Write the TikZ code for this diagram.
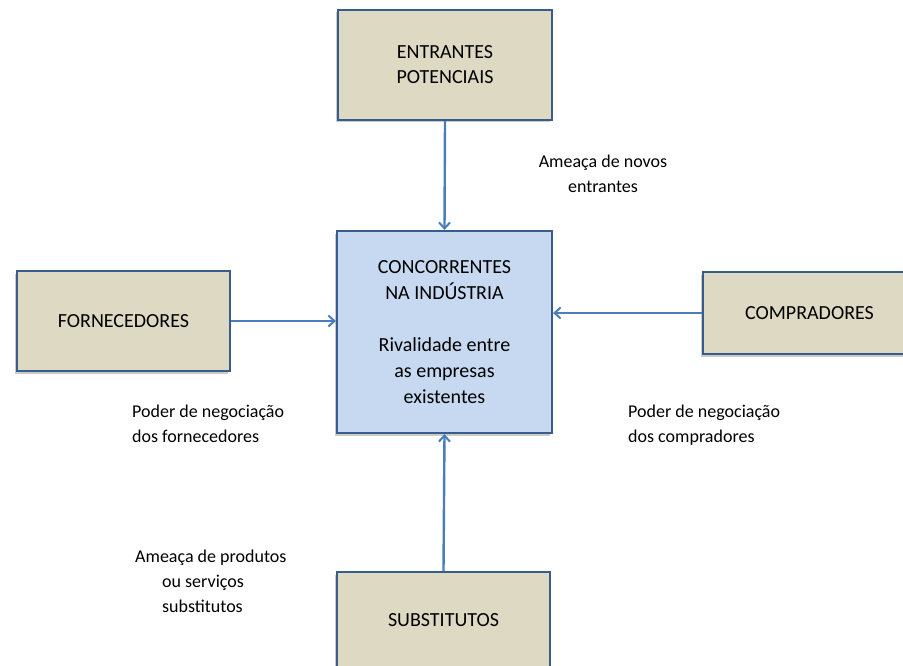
\documentclass[tikz,border=0pt]{standalone}
\usepackage{fontspec}
\setmainfont{Carlito}
\usetikzlibrary{shadows,arrows.meta}
\definecolor{tanfill}{HTML}{DDD9C3}
\definecolor{bluefill}{HTML}{C6D9F1}
\definecolor{boxline}{HTML}{385D8A}
\definecolor{arrowline}{HTML}{4A7EBB}
\tikzset{
  force/.style={draw=boxline, line width=2.2pt, fill=tanfill, align=center,
    font=\fontsize{20}{25}\selectfont, inner sep=0pt,
    drop shadow={shadow xshift=-2.5pt, shadow yshift=-2.5pt, opacity=0.35, fill=black!60}},
  core/.style={force, fill=bluefill, font=\fontsize{20}{26}\selectfont},
  lbl/.style={font=\fontsize{18}{25}\selectfont, inner sep=0pt},
  pull/.style={draw=arrowline, line width=2.4pt, -{Straight Barb[length=6pt,width=11pt,line width=2pt]}}
}
\begin{document}
\begin{tikzpicture}[x=1pt, y=-1pt]
  \useasboundingbox (0,0) rectangle (903,666);
  \clip (0,0) rectangle (903,666);
  % the five forces
  \node[force, minimum width=214pt, minimum height=110pt] (ent) at (445,65) {ENTRANTES\\POTENCIAIS};
  \node[core, minimum width=215pt, minimum height=202pt] (conc) at (444.5,332)
    {CONCORRENTES\\NA INDÚSTRIA\\[26pt]Rivalidade  entre\\as empresas\\existentes};
  \node[force, minimum width=213pt, minimum height=100pt] (forn) at (123.5,321) {FORNECEDORES};
  \node[force, minimum width=213pt, minimum height=82pt] (comp) at (809.5,313) {COMPRADORES};
  \node[force, minimum width=213pt, minimum height=96pt] (subs) at (443.5,620) {SUBSTITUTOS};
  % pressures on the industry
  \draw[pull] (ent.south) -- (conc.north);
  \draw[pull] (forn.east) -- (forn.east -| conc.west);
  \draw[pull] (comp.west) -- (comp.west -| conc.east);
  \draw[pull] (subs.north) -- (conc.south);
  % labels
  \node[lbl, align=center] (lent) at (603,174) {Ameaça de novos\\entrantes};
  \node[lbl, align=left, anchor=north west] (lforn) at (132,405) {Poder de negociação\\dos fornecedores};
  \node[lbl, align=left, anchor=north west] (lcomp) at (628,405) {Poder de negociação\\dos compradores};
  \node[lbl, align=left, anchor=north west] (lsubs) at (135,550)
    {Ameaça de produtos\\\hspace*{27pt}ou serviços\\\hspace*{27pt}substitutos};
\end{tikzpicture}
\end{document}
